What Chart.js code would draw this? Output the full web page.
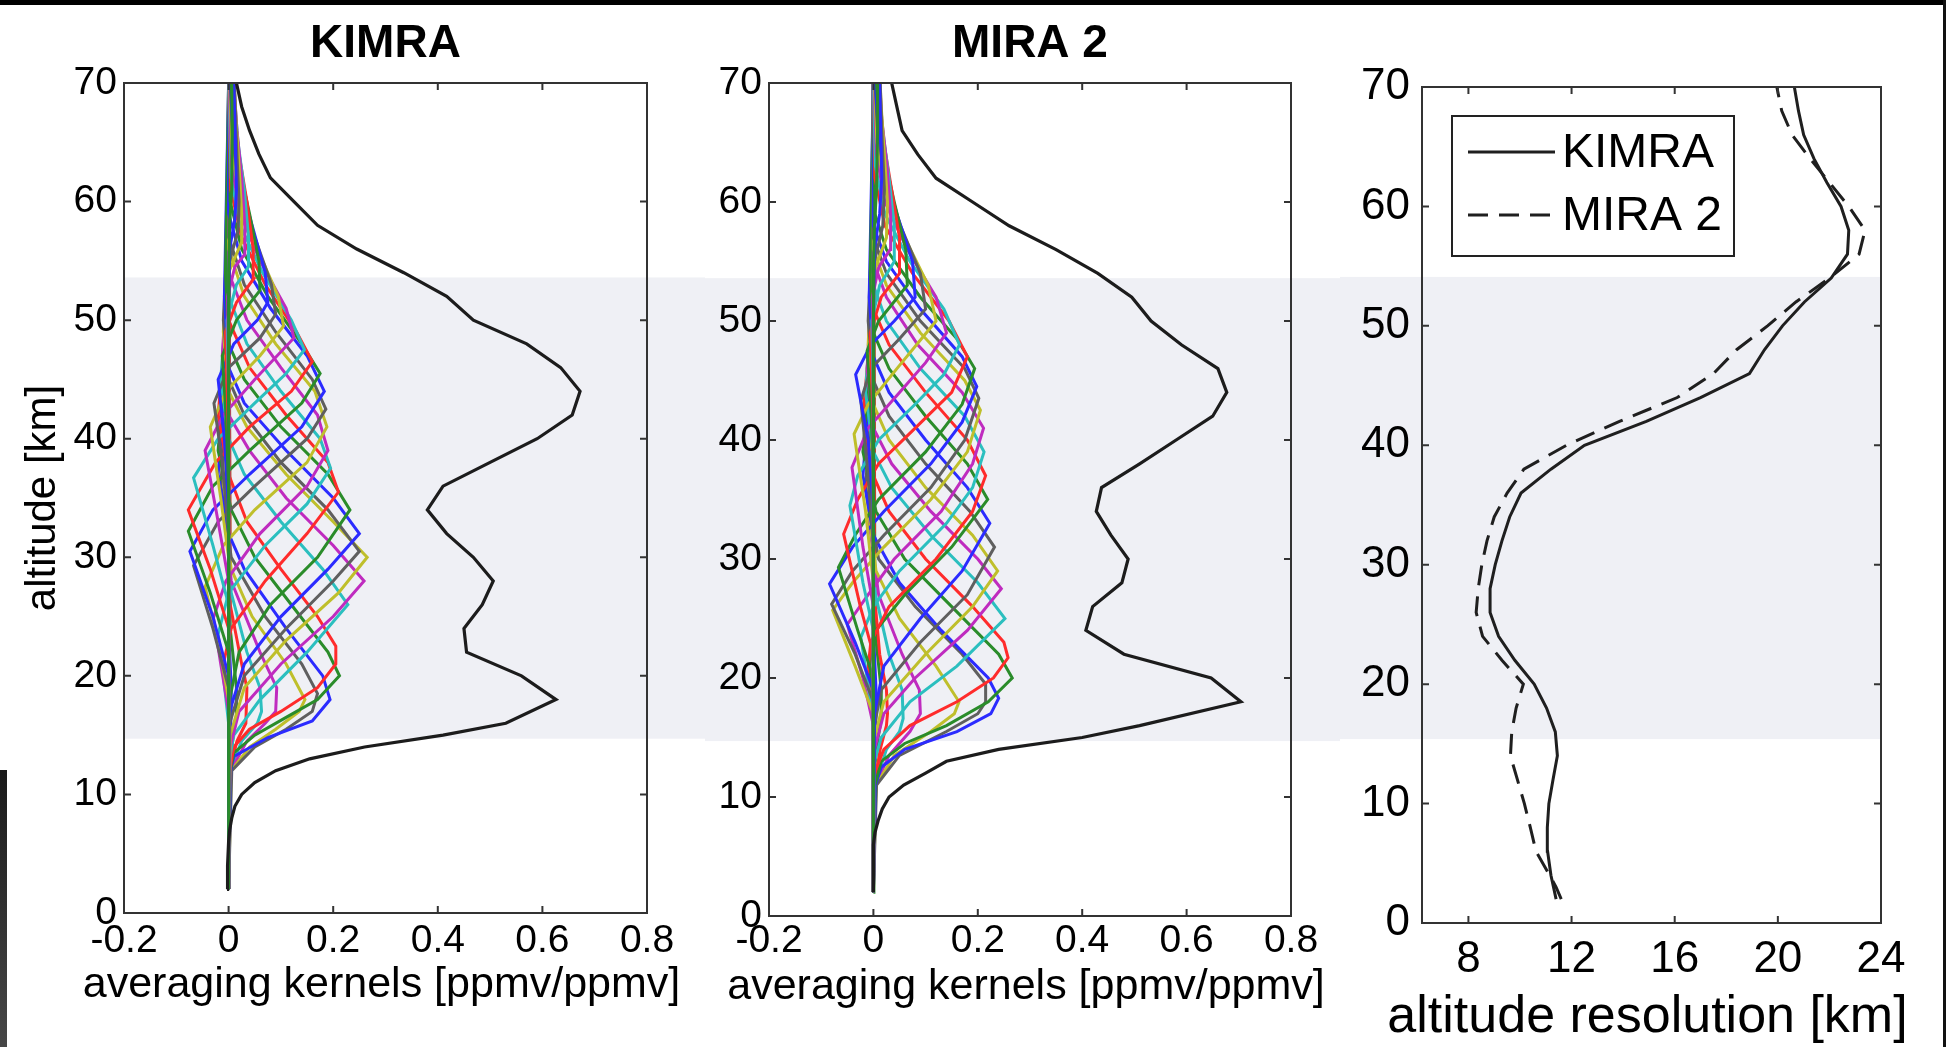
<!DOCTYPE html>
<html>
<head>
<meta charset="utf-8">
<script src="https://cdn.jsdelivr.net/npm/chart.js@4.4.1/dist/chart.umd.min.js"></script>
<style>
  html, body { margin: 0; padding: 0; background: #fff; }
  #wrap { position: relative; width: 1946px; height: 1047px; overflow: hidden; background: #fff; }
  canvas { position: absolute; top: 0; }
  .edge { position: absolute; }
</style>
</head>
<body>
<div id="wrap">
  <canvas id="kimra" width="705" height="1047" style="left:0px"></canvas>
  <canvas id="mira" width="635" height="1047" style="left:705px"></canvas>
  <canvas id="res" width="606" height="1047" style="left:1340px"></canvas>
  <div class="edge" style="left:0;top:0;width:1946px;height:5px;background:#000"></div>
  <div class="edge" style="right:0;top:0;width:3px;height:1047px;background:#111"></div>
  <div class="edge" style="left:0;top:770px;width:7px;height:277px;background:linear-gradient(#1a1a1a,#474747)"></div>
</div>
<script>
// ticks / ranges
var kernelTicks = [-0.2, 0, 0.2, 0.4, 0.6, 0.8];
var altTicks = [0, 10, 20, 30, 40, 50, 60, 70];
var resTicks = [8, 12, 16, 20, 24];
var bandKm = [14.7, 53.6];
var bandKmRes = [15.4, 54.1];

// black sum curves (measurement response)
var sumAlt = [2,4,6,7,8,9,10,11,12,13,14,15,16,18,20,22,24,26,28,30,32,34,36,38,40,42,44,46,48,50,52,54,56,58,60,62,64,66,68,70];
var kimraSum = [-0.003,-0.002,0,0.002,0.006,0.012,0.025,0.05,0.09,0.155,0.26,0.41,0.53,0.626,0.56,0.455,0.45,0.485,0.506,0.468,0.417,0.38,0.41,0.5,0.59,0.657,0.672,0.635,0.57,0.468,0.417,0.335,0.245,0.17,0.125,0.08,0.058,0.04,0.025,0.015];
var miraSum = [0,0,0,0.003,0.009,0.017,0.03,0.058,0.1,0.14,0.24,0.4,0.51,0.704,0.647,0.48,0.407,0.42,0.476,0.488,0.455,0.427,0.437,0.51,0.58,0.65,0.677,0.66,0.59,0.532,0.495,0.43,0.35,0.26,0.19,0.12,0.085,0.055,0.045,0.035];

// averaging kernels, each a list of [altitude km, value]
var kimraKernels = [
 [[2,0],[12,0],[15,0.003],[17,0.005],[19,0.005],[23,0.001],[70,0]],
 [[2,0],[12,0.001],[15,0.009],[16.5,0.015],[19,0.015],[24,0.003],[70,0]],
 [[2,0],[12,0.002],[14.5,0.016],[16,0.033],[19,0.035],[21,0.025],[26,0.003],[70,0]],
 [[2,0],[12,0.003],[14.5,0.025],[16,0.055],[17,0.063],[19,0.06],[22,0.035],[27,0.005],[33,-0.004],[70,0]],
 [[2,0],[12,0.004],[14.5,0.035],[16,0.07],[17,0.09],[19,0.092],[22,0.06],[28,0.005],[34,-0.008],[42,0],[70,0]],
 [[2,0],[12,0.005],[14,0.04],[15.5,0.09],[17,0.135],[18,0.146],[21,0.11],[25,0.045],[29,0.005],[35,-0.012],[44,0],[70,0]],
 [[2,0],[12,0.006],[14,0.05],[15.5,0.11],[17,0.16],[18.5,0.17],[21,0.14],[25,0.07],[30,0.005],[36,-0.015],[46,0],[70,0]],
 [[2,0],[12,0.004],[13.2,0.01],[14.8,0.075],[16.2,0.16],[18,0.194],[20,0.18],[24,0.11],[29,0.03],[32,0],[37,-0.02],[48,0],[70,0]],
 [[2,0],[12,0.003],[13.5,0.01],[15,0.05],[16.5,0.11],[18,0.17],[20,0.212],[22,0.19],[26,0.12],[30,0.05],[34,0.005],[39,-0.02],[50,0],[70,0]],
 [[2,0],[12,0.002],[14,0.01],[15.5,0.04],[17,0.1],[19,0.17],[21,0.205],[22.5,0.205],[25,0.17],[29,0.1],[33,0.035],[37,0],[42,-0.02],[52,0],[70,0]],
 [[2,0],[13,0.002],[15,0.01],[18,0.06],[22,0.15],[26,0.228],[29,0.18],[33,0.1],[37,0.03],[40,0],[45,-0.015],[54,0],[70,0]],
 [[2,0],[14,0.003],[17,0.02],[21,0.1],[25,0.2],[28,0.259],[31,0.2],[35,0.11],[39,0.04],[42,0],[47,-0.012],[56,0],[70,0]],
 [[2,0],[15,0.003],[19,0.03],[23,0.11],[27,0.21],[30,0.265],[33,0.2],[37,0.11],[41,0.035],[44,0],[49,-0.01],[58,0],[70,0]],
 [[2,0],[16,0.002],[20,0.03],[24,0.11],[28,0.2],[30.5,0.25],[34,0.19],[38,0.1],[42,0.03],[45,0],[50,-0.01],[60,0],[70,0]],
 [[2,0],[17,0.002],[21,0.03],[25,0.1],[29,0.19],[32,0.25],[35,0.2],[39,0.11],[43,0.03],[46,0],[52,-0.008],[70,0]],
 [[2,0],[18,0.002],[22,0.02],[26,0.08],[30,0.17],[34,0.232],[37,0.19],[41,0.1],[45,0.03],[48,0],[54,-0.006],[70,0]],
 [[2,0],[18,0],[21,-0.01],[24,0.005],[28,0.07],[32,0.15],[35.5,0.21],[38,0.19],[42,0.11],[46,0.04],[50,0],[70,0]],
 [[2,0],[16,0],[20,-0.01],[23.5,-0.02],[27,0],[31,0.07],[34.5,0.15],[37.5,0.195],[40,0.175],[44,0.1],[48,0.035],[52,0],[70,0]],
 [[2,0],[17,0],[21,-0.015],[24.9,-0.029],[28,-0.005],[32,0.06],[36,0.15],[39,0.19],[42,0.17],[46,0.1],[50,0.035],[54,0],[70,0]],
 [[2,0],[18,0],[23,-0.02],[27.5,-0.045],[31,-0.01],[34,0.05],[38,0.15],[41,0.188],[44,0.165],[48,0.09],[52,0.03],[56,0],[70,0]],
 [[2,0],[19,0],[24,-0.03],[29.3,-0.067],[33,-0.02],[36,0.05],[40,0.15],[42.5,0.186],[45,0.16],[49,0.09],[53,0.03],[57,0],[70,0]],
 [[2,0],[20,0],[25,-0.03],[30.5,-0.074],[34,-0.03],[37,0.04],[41,0.14],[44,0.183],[47,0.15],[51,0.08],[55,0.025],[59,0],[70,0]],
 [[2,0],[22,0],[27,-0.035],[32.2,-0.077],[36,-0.03],[39,0.04],[43,0.14],[45.5,0.175],[48,0.14],[52,0.075],[56,0.025],[60,0.003],[70,0]],
 [[2,0],[24,0],[29,-0.035],[34,-0.077],[38,-0.025],[41,0.04],[44,0.12],[46.5,0.16],[49,0.13],[53,0.07],[57,0.025],[61,0.004],[70,0]],
 [[2,0],[26,0],[31,-0.03],[36.7,-0.067],[40,-0.02],[43,0.05],[45.5,0.11],[47.5,0.145],[50,0.12],[54,0.065],[58,0.022],[62,0.005],[70,0]],
 [[2,0],[28,0],[33,-0.02],[39,-0.045],[42,-0.01],[45,0.05],[48.5,0.125],[51,0.11],[55,0.06],[59,0.022],[63,0.006],[70,0.001]],
 [[2,0],[30,0],[35,-0.015],[41,-0.035],[44,-0.005],[47,0.06],[49.5,0.105],[52,0.095],[56,0.055],[60,0.022],[64,0.007],[70,0.002]],
 [[2,0],[32,0],[38,-0.012],[43,-0.028],[46,0],[48.5,0.06],[50.5,0.09],[53,0.082],[57,0.05],[61,0.022],[65,0.008],[70,0.003]],
 [[2,0],[34,0],[40,-0.008],[45,-0.02],[48,0.01],[50,0.055],[51.5,0.075],[54,0.07],[58,0.045],[62,0.02],[66,0.008],[70,0.004]],
 [[2,0],[36,0],[42,-0.005],[47,-0.012],[50,0.015],[52.5,0.06],[55,0.058],[59,0.04],[63,0.02],[67,0.009],[70,0.005]],
 [[2,0],[40,0],[46,-0.004],[49,-0.006],[51.5,0.015],[53.5,0.048],[56,0.047],[60,0.035],[64,0.02],[68,0.01],[70,0.007]],
 [[2,0],[44,0],[50,-0.003],[53,0.015],[54.5,0.038],[57,0.038],[61,0.03],[65,0.018],[70,0.009]],
 [[2,0],[46,0],[52,-0.002],[54.5,0.012],[55.5,0.03],[58,0.031],[62,0.025],[66,0.016],[70,0.01]],
 [[2,0],[48,0],[54,0],[56.5,0.024],[59,0.025],[63,0.02],[67,0.014],[70,0.011]],
 [[2,0],[50,0],[55,0.002],[57.5,0.018],[60,0.02],[64,0.016],[70,0.011]],
 [[2,0],[52,0],[56,0.002],[58.5,0.012],[61,0.015],[65,0.013],[70,0.01]],
 [[2,0],[54,0],[58,0.002],[61,0.006],[66,0.007],[70,0.006]]
];

var miraKernels = [
 [[2,0],[12,0],[15,0.003],[17,0.005],[19,0.005],[23,0.001],[70,0]],
 [[2,0],[12,0.001],[15,0.009],[16.5,0.015],[19,0.015],[24,0.003],[70,0]],
 [[2,0],[11,0.002],[14,0.013],[16,0.025],[17,0.027],[19,0.025],[22,0.012],[27,0.002],[70,0]],
 [[2,0],[11,0.003],[14,0.025],[15.5,0.05],[16.6,0.057],[19,0.055],[22,0.03],[27,0.004],[33,-0.004],[70,0]],
 [[2,0],[11,0.004],[13.5,0.03],[15.5,0.07],[17,0.09],[19,0.088],[22,0.055],[27,0.01],[33,-0.008],[42,0],[70,0]],
 [[2,0],[11,0.005],[13.5,0.04],[15.5,0.11],[17,0.155],[18,0.164],[21,0.12],[25,0.05],[29,0.005],[35,-0.012],[44,0],[70,0]],
 [[2,0],[11,0.006],[13.5,0.05],[15.5,0.14],[17,0.2],[18,0.215],[19.5,0.215],[22,0.17],[26,0.08],[30,0.01],[36,-0.015],[46,0],[70,0]],
 [[2,0],[11,0.004],[12.5,0.015],[14,0.06],[15.5,0.16],[17,0.225],[18.3,0.24],[20,0.22],[24,0.13],[28,0.05],[32,0],[37,-0.02],[48,0],[70,0]],
 [[2,0],[11,0.003],[13,0.015],[14.5,0.06],[16,0.14],[18,0.22],[20,0.266],[22,0.24],[26,0.15],[30,0.06],[34,0.005],[39,-0.02],[50,0],[70,0]],
 [[2,0],[12,0.002],[14,0.02],[16,0.07],[18,0.16],[20,0.23],[21.7,0.258],[23,0.25],[26,0.19],[30,0.1],[34,0.03],[37,0],[42,-0.02],[52,0],[70,0]],
 [[2,0],[13,0.002],[15,0.015],[18,0.07],[21,0.16],[25,0.252],[28,0.2],[32,0.11],[36,0.035],[39,0],[44,-0.015],[54,0],[70,0]],
 [[2,0],[14,0.002],[17,0.02],[20,0.08],[24,0.18],[27.5,0.245],[30,0.2],[34,0.11],[38,0.035],[41,0],[46,-0.012],[56,0],[70,0]],
 [[2,0],[15,0.002],[18,0.02],[22,0.1],[26,0.19],[29,0.238],[32,0.19],[36,0.1],[40,0.03],[43,0],[48,-0.01],[58,0],[70,0]],
 [[2,0],[16,0.002],[19,0.015],[23,0.09],[27,0.18],[31,0.232],[34,0.185],[38,0.1],[42,0.03],[45,0],[50,-0.01],[60,0],[70,0]],
 [[2,0],[17,0.002],[21,0.02],[25,0.09],[29,0.17],[33,0.223],[36,0.18],[40,0.1],[44,0.03],[47,0],[52,-0.008],[70,0]],
 [[2,0],[18,0],[21,-0.008],[24,0.005],[27,0.06],[31,0.15],[35,0.219],[38,0.18],[42,0.1],[46,0.03],[49,0],[54,-0.006],[70,0]],
 [[2,0],[17,0],[20,-0.012],[23,-0.005],[26,0.03],[30,0.12],[34,0.19],[37,0.215],[40,0.18],[44,0.1],[48,0.03],[51,0],[70,0]],
 [[2,0],[16,0],[20,-0.012],[23.4,-0.024],[26,0],[29,0.05],[33,0.14],[36,0.19],[39,0.212],[42,0.175],[46,0.09],[50,0.025],[53,0],[70,0]],
 [[2,0],[16,0],[20,-0.02],[24.5,-0.05],[27,-0.01],[30,0.04],[34,0.13],[38,0.19],[41,0.211],[44,0.17],[48,0.085],[52,0.025],[55,0],[70,0]],
 [[2,0],[17,0],[21,-0.035],[25.7,-0.078],[28,-0.04],[31,0.02],[35,0.11],[39,0.18],[42.5,0.205],[45,0.175],[49,0.09],[53,0.025],[56,0],[70,0]],
 [[2,0],[18,0],[22,-0.035],[26.2,-0.08],[29,-0.04],[32,0.02],[36,0.11],[40,0.175],[43.5,0.202],[46,0.175],[50,0.09],[54,0.025],[57,0],[70,0]],
 [[2,0],[19,0],[23,-0.035],[27.9,-0.084],[31,-0.04],[34,0.02],[38,0.11],[41.5,0.17],[44.5,0.198],[47,0.17],[51,0.09],[55,0.025],[58,0],[70,0]],
 [[2,0],[20,0],[24,-0.03],[29.3,-0.067],[32,-0.035],[35,0.01],[39,0.1],[43,0.17],[46,0.194],[48.5,0.16],[52,0.09],[56,0.025],[59,0.003],[70,0]],
 [[2,0],[22,0],[26,-0.025],[32.1,-0.057],[35,-0.03],[38,0.01],[41,0.08],[44,0.15],[47,0.18],[50,0.145],[54,0.075],[58,0.022],[62,0.003],[70,0]],
 [[2,0],[24,0],[28,-0.02],[34.5,-0.045],[37,-0.03],[40,0.01],[43,0.08],[45.5,0.135],[48,0.165],[51,0.135],[55,0.07],[59,0.022],[63,0.004],[70,0]],
 [[2,0],[26,0],[31,-0.02],[37.7,-0.041],[41,-0.01],[44,0.05],[46.5,0.1],[49,0.14],[52,0.12],[56,0.065],[60,0.022],[64,0.006],[70,0.001]],
 [[2,0],[28,0],[34,-0.015],[40.5,-0.037],[43,-0.01],[46,0.045],[50,0.12],[53,0.105],[57,0.06],[61,0.022],[65,0.007],[70,0.002]],
 [[2,0],[31,0],[37,-0.01],[43.3,-0.024],[46,-0.005],[48.5,0.05],[51,0.1],[54,0.09],[58,0.052],[62,0.022],[66,0.008],[70,0.003]],
 [[2,0],[34,0],[40,-0.01],[45.5,-0.034],[48,-0.005],[50,0.04],[52,0.08],[55,0.075],[59,0.045],[63,0.02],[67,0.008],[70,0.004]],
 [[2,0],[37,0],[43,-0.005],[47.5,-0.012],[50,0.01],[53,0.065],[56,0.062],[60,0.04],[64,0.02],[68,0.009],[70,0.006]],
 [[2,0],[41,0],[46,-0.004],[49,-0.006],[52,0.015],[54,0.05],[57,0.05],[61,0.035],[65,0.02],[70,0.008]],
 [[2,0],[44,0],[50,-0.003],[53,0.012],[55,0.04],[58,0.04],[62,0.03],[66,0.018],[70,0.01]],
 [[2,0],[46,0],[52,-0.002],[54.5,0.01],[56,0.032],[59,0.033],[63,0.026],[67,0.016],[70,0.012]],
 [[2,0],[48,0],[54,0],[57,0.025],[60,0.027],[64,0.021],[68,0.015],[70,0.013]],
 [[2,0],[50,0],[55,0.002],[58,0.018],[61,0.021],[65,0.017],[70,0.013]],
 [[2,0],[52,0],[56,0.002],[59,0.012],[62,0.016],[66,0.014],[70,0.012]],
 [[2,0],[54,0],[58,0.002],[61,0.006],[66,0.008],[70,0.008]]
];

// altitude resolution
var resAlt = [2,3,4,6,8,10,12,14,16,18,20,22,24,26,28,30,32,34,36,38,40,42,44,46,48,50,52,54,56,58,60,62,64,66,68,70];
var kimraRes = [11.4,11.3,11.2,11.07,11.06,11.12,11.28,11.45,11.37,11.03,10.55,9.8,9.17,8.84,8.84,9.04,9.3,9.6,10.04,11.2,12.5,14.9,17.0,18.9,19.48,20.18,21.03,22.07,22.7,22.75,22.45,21.9,21.4,21.0,20.8,20.64];
var miraRes = [11.6,11.4,11.15,10.62,10.4,10.17,9.9,9.63,9.68,9.85,10.13,9.3,8.55,8.3,8.38,8.52,8.72,9.0,9.5,10.15,11.8,13.86,16.1,17.5,18.4,19.6,20.7,22.0,23.15,23.38,22.75,22.0,21.25,20.55,20.15,19.96];

var kernelColors = ['#2b2bff', '#2a8c2a', '#ff2b2b', '#2bbfbf', '#bf2bbf', '#bfbf2b', '#5f5f5f'];

var SANS = '"Liberation Sans", Arial, Helvetica, sans-serif';
Chart.defaults.font.family = SANS;
Chart.defaults.color = '#000';

var bandPlugin = {
  id: 'band',
  beforeDraw: function(chart, args, opts) {
    var ctx = chart.ctx, a = chart.chartArea, y = chart.scales.y;
    var top = y.getPixelForValue(opts.km[1]);
    var bottom = y.getPixelForValue(opts.km[0]);
    var x0 = opts.fromArea ? a.left : 0;
    var x1 = opts.toArea ? a.right : chart.width;
    ctx.save();
    ctx.fillStyle = '#eff0f5';
    ctx.fillRect(x0, top, x1 - x0, bottom - top);
    ctx.restore();
  }
};

// matlab style box with inward ticks
var framePlugin = {
  id: 'frame',
  afterDatasetsDraw: function(chart) {
    var ctx = chart.ctx, a = chart.chartArea, sx = chart.scales.x, sy = chart.scales.y;
    var len = 7;
    ctx.save();
    ctx.strokeStyle = '#333';
    ctx.lineWidth = 2;
    ctx.strokeRect(a.left, a.top, a.right - a.left, a.bottom - a.top);
    ctx.beginPath();
    sx.ticks.forEach(function(t) {
      var p = sx.getPixelForValue(t.value);
      ctx.moveTo(p, a.bottom); ctx.lineTo(p, a.bottom - len);
      ctx.moveTo(p, a.top); ctx.lineTo(p, a.top + len);
    });
    sy.ticks.forEach(function(t) {
      var p = sy.getPixelForValue(t.value);
      ctx.moveTo(a.left, p); ctx.lineTo(a.left + len, p);
      ctx.moveTo(a.right, p); ctx.lineTo(a.right - len, p);
    });
    ctx.stroke();
    ctx.restore();
  }
};

// x axis title, wider than the plot box so drawn without maxWidth squeeze
var xTitlePlugin = {
  id: 'xTitle',
  afterDraw: function(chart, args, opts) {
    var ctx = chart.ctx, a = chart.chartArea;
    ctx.save();
    ctx.font = opts.size + 'px ' + SANS;
    ctx.fillStyle = '#000';
    ctx.textAlign = 'center';
    ctx.textBaseline = 'alphabetic';
    ctx.fillText(opts.text, (a.left + a.right) / 2 - 4, a.bottom + opts.dy);
    ctx.restore();
  }
};

var boxLegend = {
  id: 'boxLegend',
  afterDraw: function(chart) {
    var ctx = chart.ctx, a = chart.chartArea;
    var x = a.left + 30, y = a.top + 29, w = 282, h = 140;
    ctx.save();
    ctx.fillStyle = '#fff';
    ctx.fillRect(x, y, w, h);
    ctx.strokeStyle = '#222';
    ctx.lineWidth = 2;
    ctx.strokeRect(x, y, w, h);
    ctx.font = '48px ' + SANS;
    ctx.textBaseline = 'middle';
    ctx.fillStyle = '#000';
    chart.data.datasets.forEach(function(ds, i) {
      var ly = y + 36 + i * 63;
      ctx.beginPath();
      ctx.setLineDash(ds.borderDash || []);
      ctx.lineWidth = 3;
      ctx.strokeStyle = ds.borderColor;
      ctx.moveTo(x + 16, ly);
      ctx.lineTo(x + 103, ly);
      ctx.stroke();
      ctx.setLineDash([]);
      ctx.fillText(ds.label, x + 110, ly + 2);
    });
    ctx.restore();
  }
};

function kernelDatasets(sumVal, kernels) {
  var sets = [{
    data: sumAlt.map(function(a, i) { return {x: sumVal[i], y: a}; }),
    borderColor: '#1c1c1c', borderWidth: 3.2, showLine: true, pointRadius: 0
  }];
  // first dataset is drawn on top, so push kernels last-to-first
  for (var i = kernels.length - 1; i >= 0; i--) {
    sets.push({
      data: kernels[i].map(function(p) { return {x: p[1], y: p[0]}; }),
      borderColor: kernelColors[i % kernelColors.length],
      borderWidth: 3, showLine: true, pointRadius: 0
    });
  }
  return sets;
}

function kernelChart(id, o) {
  return new Chart(document.getElementById(id), {
    type: 'scatter',
    data: {datasets: kernelDatasets(o.sum, o.kernels)},
    options: {
      responsive: false, animation: false, devicePixelRatio: 1,
      layout: {padding: {left: 0, right: o.padRight, top: 0, bottom: 0}},
      plugins: {
        legend: {display: false},
        tooltip: {enabled: false},
        title: {display: true, text: o.title, fullSize: false, color: '#000',
          font: {size: 46, weight: 'bold'}, padding: {top: 17, bottom: 10.8}},
        band: {km: bandKm, fromArea: o.bandFromArea, toArea: false},
        xTitle: {text: 'averaging kernels [ppmv/ppmv]', size: 43, dy: o.xTitleDy}
      },
      scales: {
        x: {
          type: 'linear', position: 'bottom', min: -0.2, max: 0.8,
          afterFit: function(s) { s.height = o.xHeight; },
          afterBuildTicks: function(s) { s.ticks = kernelTicks.map(function(v) { return {value: v}; }); },
          grid: {display: false, drawTicks: false}, border: {display: false},
          ticks: {color: '#000', font: {size: 39}, padding: o.xTickPad, autoSkip: false, maxRotation: 0,
            callback: function(v) { return String(v); }}
        },
        y: {
          type: 'linear', min: 0, max: 70,
          afterFit: function(s) { s.width = o.yWidth; },
          afterBuildTicks: function(s) { s.ticks = altTicks.map(function(v) { return {value: v}; }); },
          grid: {display: false, drawTicks: false}, border: {display: false},
          ticks: {color: '#000', font: {size: 39}, padding: o.yTickPad, autoSkip: false},
          title: {display: o.yTitle, text: 'altitude [km]', color: '#000',
            font: {size: 42}, padding: {top: 18, bottom: 0}}
        }
      }
    },
    plugins: [bandPlugin, framePlugin, xTitlePlugin]
  });
}

kernelChart('kimra', {title: 'KIMRA', sum: kimraSum, kernels: kimraKernels,
  padRight: 58, xHeight: 134, yWidth: 124, yTickPad: 7, xTickPad: 5, xTitleDy: 84, yTitle: true, bandFromArea: true});
kernelChart('mira', {title: 'MIRA 2', sum: miraSum, kernels: miraKernels,
  padRight: 49, xHeight: 131, yWidth: 64, yTickPad: 7, xTickPad: 2, xTitleDy: 83, yTitle: false, bandFromArea: false});

new Chart(document.getElementById('res'), {
  type: 'scatter',
  data: {
    datasets: [{
      label: 'KIMRA',
      data: resAlt.map(function(a, i) { return {x: kimraRes[i], y: a}; }),
      borderColor: '#1f1f1f', borderWidth: 3, showLine: true, pointRadius: 0
    }, {
      label: 'MIRA 2',
      data: resAlt.map(function(a, i) { return {x: miraRes[i], y: a}; }),
      borderColor: '#1f1f1f', borderWidth: 3, borderDash: [20, 11], showLine: true, pointRadius: 0
    }]
  },
  options: {
    responsive: false, animation: false, devicePixelRatio: 1,
    layout: {padding: {left: 0, right: 65, top: 87, bottom: 0}},
    plugins: {
      legend: {display: false},
      tooltip: {enabled: false},
      band: {km: bandKmRes, fromArea: false, toArea: true},
      xTitle: {text: 'altitude resolution [km]', size: 52, dy: 109}
    },
    scales: {
      x: {
        type: 'linear', position: 'bottom', min: 6.2, max: 24,
        afterFit: function(s) { s.height = 124; },
        afterBuildTicks: function(s) { s.ticks = resTicks.map(function(v) { return {value: v}; }); },
        grid: {display: false, drawTicks: false}, border: {display: false},
        ticks: {color: '#000', font: {size: 44}, padding: 10, autoSkip: false, maxRotation: 0,
          callback: function(v) { return String(v); }}
      },
      y: {
        type: 'linear', min: 0, max: 70,
        afterFit: function(s) { s.width = 82; },
        afterBuildTicks: function(s) { s.ticks = altTicks.map(function(v) { return {value: v}; }); },
        grid: {display: false, drawTicks: false}, border: {display: false},
        ticks: {color: '#000', font: {size: 44}, padding: 12, autoSkip: false}
      }
    }
  },
  plugins: [bandPlugin, framePlugin, xTitlePlugin, boxLegend]
});
</script>
</body>
</html>
